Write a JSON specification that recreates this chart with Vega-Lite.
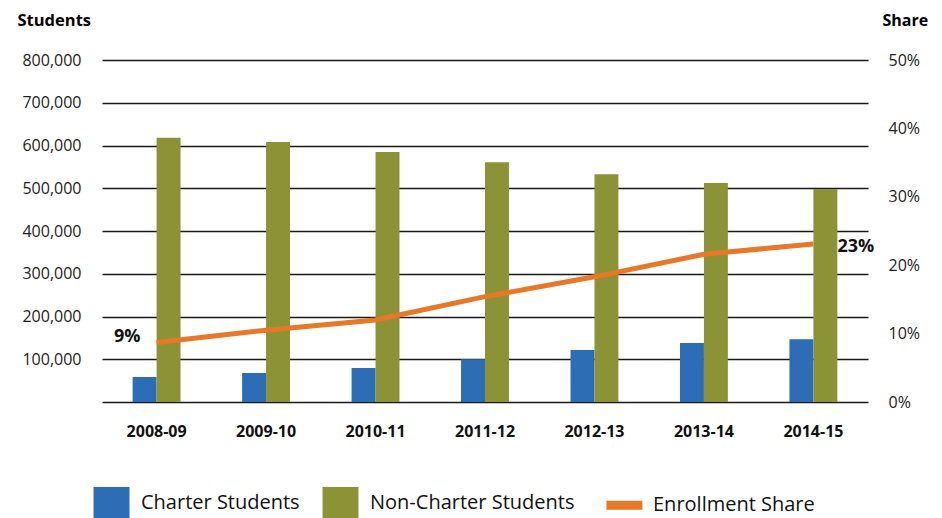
{
  "$schema": "https://vega.github.io/schema/vega-lite/v6.json",
  "width": 768,
  "height": 342,
  "autosize": {"type": "none"},
  "padding": {"left": 100, "top": 60, "right": 74, "bottom": 116},
  "background": "white",
  "config": {"view": {"stroke": null}, "font": "Open Sans"},
  "datasets": {
    "students": [
      {"year": "2008-09", "group": "Charter Students", "students": 58500},
      {"year": "2008-09", "group": "Non-Charter Students", "students": 618000},
      {"year": "2009-10", "group": "Charter Students", "students": 68000},
      {"year": "2009-10", "group": "Non-Charter Students", "students": 608000},
      {"year": "2010-11", "group": "Charter Students", "students": 79500},
      {"year": "2010-11", "group": "Non-Charter Students", "students": 585000},
      {"year": "2011-12", "group": "Charter Students", "students": 100000},
      {"year": "2011-12", "group": "Non-Charter Students", "students": 561000},
      {"year": "2012-13", "group": "Charter Students", "students": 121500},
      {"year": "2012-13", "group": "Non-Charter Students", "students": 533000},
      {"year": "2013-14", "group": "Charter Students", "students": 138000},
      {"year": "2013-14", "group": "Non-Charter Students", "students": 512000},
      {"year": "2014-15", "group": "Charter Students", "students": 147000},
      {"year": "2014-15", "group": "Non-Charter Students", "students": 498000}
    ],
    "share": [
      {"year": "2008-09", "share": 0.087},
      {"year": "2009-10", "share": 0.105},
      {"year": "2010-11", "share": 0.12},
      {"year": "2011-12", "share": 0.154},
      {"year": "2012-13", "share": 0.183},
      {"year": "2013-14", "share": 0.216},
      {"year": "2014-15", "share": 0.231}
    ]
  },
  "layer": [
    {
      "data": {"name": "students"},
      "mark": {"type": "bar"},
      "encoding": {
        "x": {
          "field": "year", "type": "nominal", "sort": null,
          "scale": {"paddingInner": 0.5625, "paddingOuter": 0.28, "range": [2, 768]},
          "axis": {"title": null, "labelAngle": 0, "labelFontWeight": "bold", "labelFontSize": 16, "labelColor": "#111", "labelPadding": 21, "ticks": false, "domain": false}
        },
        "xOffset": {"field": "group", "type": "nominal", "sort": ["Charter Students", "Non-Charter Students"], "scale": {"paddingInner": 0, "paddingOuter": 0}},
        "y": {
          "field": "students", "type": "quantitative",
          "scale": {"domain": [0, 800000]},
          "axis": {
            "values": [0, 100000, 200000, 300000, 400000, 500000, 600000, 700000, 800000],
            "title": "Students", "titleAngle": 0, "titleAlign": "left", "titleBaseline": "alphabetic",
            "titleX": -83, "titleY": -35, "titleFontSize": 16.5, "titleFontWeight": "bold", "titleColor": "#000",
            "labelExpr": "datum.value === 0 ? '' : format(datum.value, ',')",
            "labelFontSize": 16, "labelColor": "#222", "labelPadding": 19,
            "ticks": false, "domain": false, "grid": true, "gridColor": "#1a1a1a", "gridWidth": 1.5, "gridOpacity": 1
          }
        },
        "color": {
          "field": "group", "type": "nominal",
          "scale": {"domain": ["Charter Students", "Non-Charter Students", "Enrollment Share"], "range": ["#2C6DB6", "#8C9336", "#E77828"]},
          "legend": {
            "orient": "none", "legendX": -4, "legendY": 427, "direction": "horizontal", "title": null,
            "symbolSize": 961, "symbolType": "square", "symbolStrokeWidth": 0,
            "labelFontSize": 20, "labelFont": "Open Sans", "labelColor": "#111", "labelOffset": 14, "columnPadding": 22, "labelLimit": 400,
            "encode": {
              "symbols": {
                "update": {
                  "shape": {"signal": "datum.value === 'Enrollment Share' ? 'M-0.39,-0.29L1.93,-0.29L1.93,0.29L-0.39,0.29Z' : 'M-1.16,-1L1.16,-1L1.16,1L-1.16,1Z'"},
                  "fill": {"signal": "scale('color', datum.value)"},
                  "opacity": {"value": 1},
                  "strokeWidth": {"value": 0}
                }
              },
              "labels": {
                "update": {
                  "dx": {"signal": "datum.value === 'Enrollment Share' ? 11 : 0"}
                }
              }
            }
          }
        }
      }
    },
    {
      "data": {"name": "share"},
      "encoding": {
        "x": {"field": "year", "type": "nominal", "sort": null},
        "y": {
          "field": "share", "type": "quantitative",
          "scale": {"domain": [0, 0.5]},
          "axis": {
            "orient": "right", "values": [0, 0.1, 0.2, 0.3, 0.4, 0.5], "format": ".0%",
            "title": "Share", "titleAngle": 0, "titleAlign": "left", "titleBaseline": "alphabetic",
            "titleX": 14, "titleY": -35, "titleFontSize": 16, "titleFontWeight": "bold", "titleColor": "#000",
            "labelFontSize": 16, "labelColor": "#222", "labelPadding": 20,
            "ticks": false, "domain": false, "grid": false
          }
        }
      },
      "layer": [
        {
          "mark": {"type": "line", "strokeWidth": 5},
          "encoding": {"color": {"datum": "Enrollment Share"}}
        },
        {
          "transform": [{"filter": "datum.year === '2008-09'"}],
          "mark": {"type": "text", "fontWeight": "bold", "fontSize": 18, "align": "right", "dx": -16, "dy": -5, "color": "#111"},
          "encoding": {"text": {"field": "share", "type": "quantitative", "format": ".0%"}}
        },
        {
          "transform": [{"filter": "datum.year === '2014-15'"}],
          "mark": {"type": "text", "fontWeight": "bold", "fontSize": 18, "align": "left", "dx": 24, "dy": 3, "color": "#111"},
          "encoding": {"text": {"field": "share", "type": "quantitative", "format": ".0%"}}
        }
      ]
    }
  ],
  "resolve": {"scale": {"y": "independent"}}
}
